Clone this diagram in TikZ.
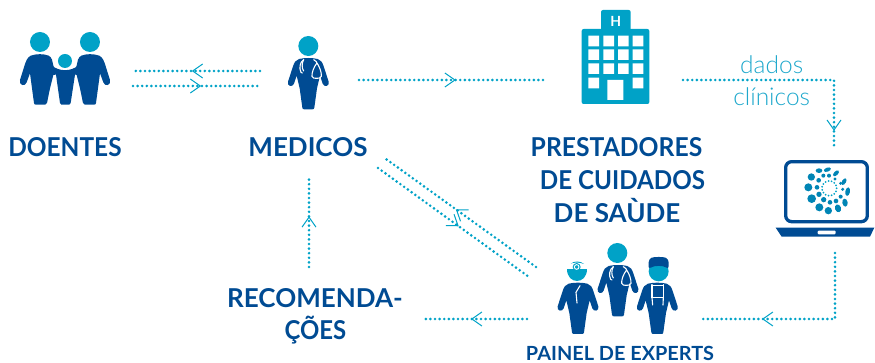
\documentclass[tikz,border=0pt]{standalone}
\usepackage{graphicx}
\usepackage{fontspec}
\setmainfont{Lato}
\newfontfamily\lightf{Lato Light}
\usetikzlibrary{decorations.markings}
\definecolor{navy}{HTML}{004B93}
\definecolor{teal2}{HTML}{00A2C7}
\definecolor{teal3}{HTML}{0085B5}
\definecolor{lighttxt}{HTML}{1FA8CC}
\newcommand{\sx}[2]{\scalebox{#1}[1]{#2}}
\tikzset{
  zs/.style 2 args={shift={(#1,#2)},x=0.3333pt,y=-0.3333pt},
  head/.style={text=navy,font=\bfseries\fontsize{26}{26}\selectfont,inner sep=0pt,anchor=center},
  smallhead/.style={text=navy,font=\bfseries\fontsize{19.5}{20}\selectfont,inner sep=0pt,anchor=center},
  thin label/.style={text=lighttxt,font=\lightf\fontsize{24.5}{24}\selectfont,inner sep=0pt,anchor=center},
  link/.style={draw=teal2,line width=2.9pt,line cap=round,dash pattern=on 0pt off 4.6pt},
  chev/.style={postaction={decorate,decoration={markings,mark=at position #1 with {\draw[teal2,line width=1pt,solid,line cap=butt] (-10pt,-7pt)--(0pt,0pt)--(-10pt,7pt);}}}},
  wline/.style={draw=white,line width=1.1pt,fill=none,line cap=round},
}
\newcommand{\bodyshape}{%
 \fill[navy] (-28,2) .. controls (-38,5) and (-42,12) .. (-46,24) -- (-61,70) .. controls (-65,84) and (-47,88) .. (-43,76) -- (-35,52) -- (-26,90) -- (-18,148) .. controls (-18,152) and (-15,153) .. (-12,153) -- (12,153) .. controls (15,153) and (18,152) .. (18,148) -- (26,90) -- (35,52) -- (43,76) .. controls (47,88) and (65,84) .. (61,70) -- (46,24) .. controls (42,12) and (38,5) .. (28,2) .. controls (10,-2) and (-10,-2) .. (-28,2) -- cycle;}
\newcommand{\stetho}{%
 \draw[wline] (-14,4) .. controls (-26,12) and (-28,30) .. (-22,42) -- (-18,44);
 \draw[wline] (-14,4) .. controls (-20,14) and (-20,30) .. (-14,38);
 \draw[wline] (16,4) .. controls (24,8) and (26,12) .. (26,16);
 \draw[wline] (26,14) .. controls (16,26) and (10,44) .. (11,54) .. controls (12,60) and (20,60) .. (24,60) .. controls (30,60) and (38,60) .. (39,54) .. controls (40,42) and (34,26) .. (26,14);
}
\newcommand{\adult}{%
 \fill[navy] (62,92) .. controls (52,98) and (48,108) .. (46,114) -- (30,165) .. controls (26,182) and (46,186) .. (50,172) -- (60,145) -- (66,190) -- (72,234) .. controls (72,238) and (75,239) .. (78,239) -- (106,239) .. controls (109,239) and (111,238) .. (111,234) -- (120,190) -- (130,150) -- (132,130) -- (126,104) .. controls (124,98) and (120,94) .. (116,92) .. controls (100,86) and (80,86) .. (62,92) -- cycle;}
\begin{document}
\begin{tikzpicture}[x=1pt,y=-1pt]
\useasboundingbox (0,0) rectangle (875,363);
% family
\begin{scope}[zs={10}{25}]
 \adult
 \begin{scope}[shift={(330,0)},xscale=-1]\adult\end{scope}
 \fill[navy] (127,122) .. controls (145,140) and (185,140) .. (203,122) -- (205,150) -- (195,149) -- (182,234) .. controls (181,238) and (180,239) .. (178,239) -- (154,239) .. controls (152,239) and (151,238) .. (150,234) -- (138,149) -- (127,150) -- cycle;
 \fill[teal2] (90,51) circle (30) (240,51) circle (30) (165,108) circle (21);
\end{scope}
% doctor
\begin{scope}[zs={280}{30}]
 \fill[teal2] (85,48) circle (30);
 \begin{scope}[shift={(85,85)}]\bodyshape\stetho\end{scope}
\end{scope}
% hospital
\begin{scope}[zs={540}{0}]
 \fill[teal2,rounded corners=2pt] (183,30) rectangle (272,100);
 \fill[teal2,rounded corners=2pt] (125,87) rectangle (328,312);
 \fill[white] \foreach \cx in {145,190,234,278}{\foreach \cy in {107,148,190}{(\cx,\cy) rectangle ++(32,32)}};
 \fill[white] (145,233) rectangle ++(32,32) (278,233) rectangle ++(32,32) (202,240) rectangle (250,300);
 \node[inner sep=0pt,text=white,font=\bfseries\fontsize{14}{14}\selectfont] (hletter) at (227,64) {H};
\end{scope}
% laptop
\begin{scope}[zs={770}{155}]
 \draw[navy,line width=3.3pt,rounded corners=6pt] (47,20) rectangle (292,200);
 \fill[navy] (17,218) -- (313,218) -- (300,245) -- (35,245) -- cycle;
 \fill[white,rounded corners=1pt] (143,227) rectangle (197,238);
 \foreach \px/\py/\rx/\ry/\rot in {115/97/12/12/0,125/131/13/13/0,148/157/12/12/0,175/167/11/11/0,204/160/9/12/20,225/143/8/12/10,233/110/7/13/-10,222/80/6/11/-30,198/55/6/11/-45,172/44/6/11/-70,147/47/7/10/-90,124/66/11/11/0}
   {\fill[teal3,rotate around={\rot:(\px,\py)}] (\px,\py) ellipse ({\rx} and {\ry});}
 \foreach \px/\py/\rr in {141/97/7,147/118/8,161/134/8,180/142/7,198/138/7,212/125/6,218/103/5,212/85/5,195/72/5,177/62/6,160/62/6,146/76/7}
   {\fill[teal3] (\px,\py) circle (\rr);}
 \foreach \a in {0,24,...,336}{\fill[teal2] (178,100)+(\a:22) circle (3);}
\end{scope}
% panel
\begin{scope}[zs={550}{238}]
 % centre doctor
 \fill[teal2] (202,45) circle (30);
 \begin{scope}[shift={(204,82)}]\bodyshape\stetho\end{scope}
 % left surgeon
 \fill[teal2] (52,92) .. controls (52,140) and (112,140) .. (112,92) -- cycle;
 \fill[teal2] (62,78) .. controls (70,68) and (92,68) .. (102,78) -- (92,75) .. controls (85,73) and (75,73) .. (68,75) -- cycle;
 \fill[teal2] (80,87) circle (12);
 \draw[white,line width=0.9pt] (80,87) circle (7);
 \begin{scope}[shift={(84,135)}]\bodyshape
  \draw[wline] (6,8) -- (-6,28) -- (-3,60);
 \end{scope}
 % right surgeon
 \fill[teal2] (326,100) circle (30);
 \fill[navy,rounded corners=3pt] (296,94) -- (296,64) .. controls (310,56) and (342,56) .. (356,64) -- (356,94) .. controls (340,82) and (312,82) .. (296,94) -- cycle;
 \begin{scope}[shift={(322,135)}]\bodyshape
  \draw[wline] (-16,5) -- (-16,44) -- (18,44) -- (18,5);
  \draw[wline] (-16,8) -- (18,8);
  \draw[wline] (-16,44) -- (-14,66);
  \draw[wline] (18,44) -- (17,66);
 \end{scope}
\end{scope}
% labels
\node[head] (doentes) at (65,147) {\sx{0.94}{DOENTES}};
\node[head] (medicos) at (308,147) {MEDICOS};
\node[head] (prest1) at (616.5,147) {\sx{0.95}{PRESTADORES}};
\node[head] (prest2) at (622.5,180) {\sx{0.93}{DE CUIDADOS}};
\node[head] (prest3) at (617,211) {DE SAÙDE};
\node[head] (reco1) at (315,298) {RECOMENDA-};
\node[head] (reco2) at (315.5,330) {\sx{0.92}{ÇÕES}};
\node[smallhead] (painel) at (620,353) {\sx{1.02}{PAINEL DE EXPERTS}};
\node[thin label] (dados) at (771.7,65) {dados};
\node[thin label] (clin) at (771.7,97) {clínicos};
% connector ends
\coordinate (docL1) at (260,71);   \coordinate (famR1) at (133,71);
\coordinate (famR2) at (133,86);   \coordinate (docL2) at (260,86);
\coordinate (docR) at (359,80);    \coordinate (hospL) at (547,80);
\coordinate (hospR) at (683,80);   \coordinate (bendA) at (834,80);  \coordinate (lapT) at (834,146);
\coordinate (lapB) at (835,253);   \coordinate (bendB) at (835,319); \coordinate (panR) at (700,319);
\coordinate (panL) at (527,319);   \coordinate (recR) at (425,319);
\coordinate (recT) at (309,267);   \coordinate (medB) at (309,178);
\coordinate (panD1) at (536,267);  \coordinate (medD1) at (386,159);
\coordinate (medD2) at (378,168);  \coordinate (panD2) at (529,277);
% connectors
\draw[link,chev=0.53] (docL1) -- (famR1);
\draw[link,chev=0.53] (famR2) -- (docL2);
\draw[link,chev=0.51] (docR) -- (hospL);
\draw[link,chev=0.926] (hospR) -- (bendA) -- (lapT);
\draw[link,chev=0.687] (lapB) -- (bendB) -- (panR);
\draw[link,chev=0.54] (panL) -- (recR);
\draw[link,chev=0.56] (recT) -- (medB);
\draw[link,chev=0.53] (panD1) -- (medD1);
\draw[link,chev=0.53] (medD2) -- (panD2);
\end{tikzpicture}
\end{document}
